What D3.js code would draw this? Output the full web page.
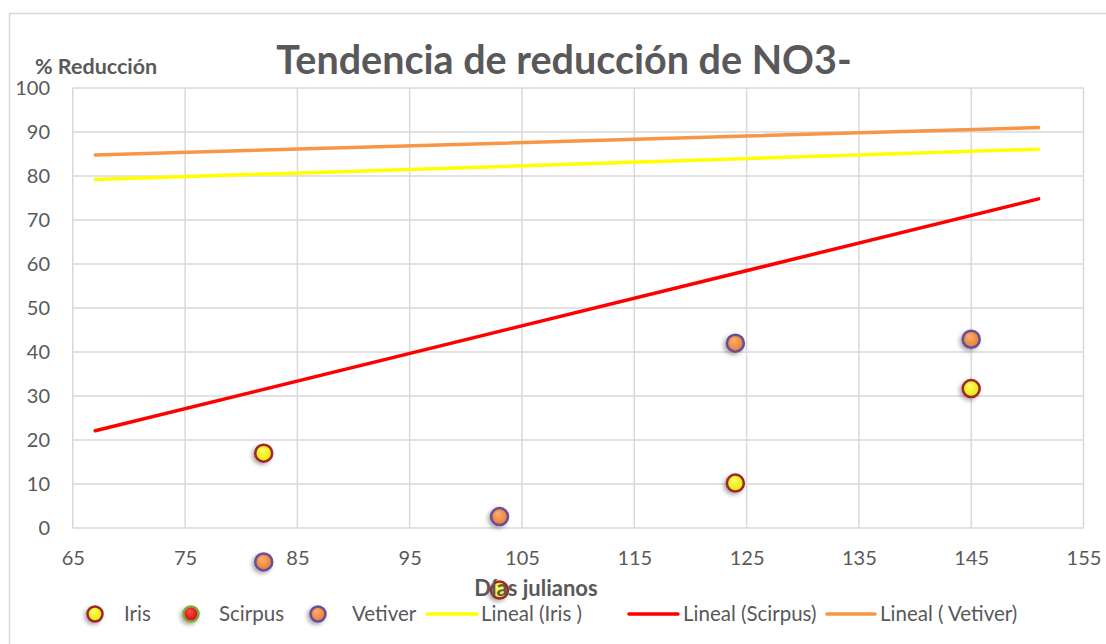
<!DOCTYPE html>
<html>
<head>
<meta charset="utf-8">
<script src="https://cdn.jsdelivr.net/npm/d3@7"></script>
<style>
body { margin: 0; background: #fff; }
svg { display: block; font-family: Lato, "Open Sans", sans-serif; }
</style>
</head>
<body>
<div id="chart"></div>
<script>
// data
var dias = [82, 103, 124, 145];
var iris = [17, -14.1, 10.2, 31.7];
var scirpus = [];            // no Scirpus point visible in the picture
var vetiver = [-7.7, 2.6, 42, 42.9];

// trend lines (start / end of each line)
var trendX = [67, 151];
var trendIris = [79.2, 86.1];
var trendScirpus = [22.1, 74.8];
var trendVetiver = [84.8, 91];

var xTicks = [65, 75, 85, 95, 105, 115, 125, 135, 145, 155];
var yTicks = [0, 10, 20, 30, 40, 50, 60, 70, 80, 90, 100];

var W = 1106, H = 644;
var grey = "#595959", gridC = "#d9d9d9";

var svg = d3.select("#chart").append("svg")
	.attr("width", W)
	.attr("height", H);

var defs = svg.append("defs");

function grad(id, inner, outer){
	var g = defs.append("radialGradient")
		.attr("id", id)
		.attr("cx", "50%").attr("cy", "50%").attr("r", "55%")
		.attr("fx", "38%").attr("fy", "30%");
	g.append("stop").attr("offset", "0%").attr("stop-color", inner);
	g.append("stop").attr("offset", "100%").attr("stop-color", outer);
}
grad("gIris", "#ffff66", "#e6e600");
grad("gScirpus", "#ff5050", "#d00000");
grad("gVetiver", "#ffb070", "#e07b2e");

var f = defs.append("filter").attr("id", "shadow")
	.attr("x", "-60%").attr("y", "-60%").attr("width", "220%").attr("height", "220%");
f.append("feDropShadow")
	.attr("dx", -2).attr("dy", 2).attr("stdDeviation", 2)
	.attr("flood-color", "#000").attr("flood-opacity", 0.35);

// chart frame
svg.append("rect")
	.attr("x", 9.5).attr("y", 13.5)
	.attr("width", 1110).attr("height", 700)
	.attr("fill", "none")
	.attr("stroke", gridC)
	.attr("stroke-width", 1.5);

var x = d3.scaleLinear().domain([65, 155]).range([72.8, 1083.5]);
var y = d3.scaleLinear().domain([0, 100]).range([528, 88]);

// grid
svg.append("g").selectAll("line").data(xTicks).enter().append("line")
	.attr("x1", function(d){ return x(d); })
	.attr("x2", function(d){ return x(d); })
	.attr("y1", y(0)).attr("y2", y(100))
	.attr("stroke", gridC).attr("stroke-width", 1.5);
svg.append("g").selectAll("line").data(yTicks).enter().append("line")
	.attr("x1", x(65)).attr("x2", x(155))
	.attr("y1", function(d){ return y(d); })
	.attr("y2", function(d){ return y(d); })
	.attr("stroke", gridC).attr("stroke-width", 1.5);

// axes labels via d3 axes, lines hidden
svg.append("g")
	.attr("transform", "translate(0," + 541 + ")")
	.call(d3.axisBottom(x).tickValues(xTicks).tickSize(0).tickPadding(10));
svg.append("g")
	.attr("transform", "translate(" + 62 + ",0)")
	.call(d3.axisLeft(y).tickValues(yTicks).tickSize(0).tickPadding(12));
svg.selectAll(".domain").remove();
svg.selectAll(".tick text")
	.attr("fill", grey)
	.style("font-size", "20px")
	.style("font-family", "Lato, sans-serif");

// trend lines
var trends = [
	{v: trendIris, c: "#ffff00"},
	{v: trendScirpus, c: "#ff0000"},
	{v: trendVetiver, c: "#f79646"}
];
trends.forEach(function(t){
	svg.append("line")
		.attr("x1", x(trendX[0])).attr("y1", y(t.v[0]))
		.attr("x2", x(trendX[1])).attr("y2", y(t.v[1]))
		.attr("stroke", t.c).attr("stroke-width", 3.5)
		.attr("stroke-linecap", "round");
});

// points
var series = [
	{name: "Iris", v: iris, fill: "url(#gIris)", stroke: "#a0262a"},
	{name: "Scirpus", v: scirpus, fill: "url(#gScirpus)", stroke: "#7ea83a"},
	{name: "Vetiver", v: vetiver, fill: "url(#gVetiver)", stroke: "#6a4c9c"}
];
series.forEach(function(s){
	svg.append("g").selectAll("circle").data(s.v).enter().append("circle")
		.attr("cx", function(d, i){ return x(dias[i]); })
		.attr("cy", function(d){ return y(d); })
		.attr("r", 8.5)
		.attr("fill", s.fill)
		.attr("stroke", s.stroke)
		.attr("stroke-width", 2.5)
		.attr("filter", "url(#shadow)");
});

// titles
svg.append("text")
	.attr("x", 564).attr("y", 74)
	.attr("text-anchor", "middle")
	.attr("fill", grey)
	.style("font-size", "39.5px").style("font-weight", "bold")
	.text("Tendencia de reducción de NO3-");

svg.append("text")
	.attr("x", 35).attr("y", 74)
	.attr("fill", grey)
	.style("font-size", "21.5px").style("font-weight", "bold")
	.text("% Reducción");

svg.append("text")
	.attr("x", 536).attr("y", 596)
	.attr("text-anchor", "middle")
	.attr("fill", grey)
	.style("font-size", "22px").style("font-weight", "bold")
	.text("Días julianos");

// legend
var leg = svg.append("g");
var legMarks = [
	{x: 95, fill: "url(#gIris)", stroke: "#a0262a", label: "Iris", tx: 124},
	{x: 191, fill: "url(#gScirpus)", stroke: "#7ea83a", label: "Scirpus", tx: 219},
	{x: 318, fill: "url(#gVetiver)", stroke: "#6a4c9c", label: "Vetiver", tx: 352}
];
legMarks.forEach(function(m){
	leg.append("circle")
		.attr("cx", m.x).attr("cy", 614).attr("r", 7.5)
		.attr("fill", m.fill).attr("stroke", m.stroke).attr("stroke-width", 2.5)
		.attr("filter", "url(#shadow)");
	leg.append("text")
		.attr("x", m.tx).attr("y", 621)
		.attr("fill", grey).style("font-size", "20.5px")
		.text(m.label);
});
var legLines = [
	{x1: 427, x2: 477, c: "#ffff00", label: "Lineal (Iris )", tx: 481},
	{x1: 629, x2: 678, c: "#ff0000", label: "Lineal (Scirpus)", tx: 683},
	{x1: 827, x2: 875, c: "#f79646", label: "Lineal ( Vetiver)", tx: 880}
];
legLines.forEach(function(l){
	leg.append("line")
		.attr("x1", l.x1).attr("x2", l.x2)
		.attr("y1", 614).attr("y2", 614)
		.attr("stroke", l.c).attr("stroke-width", 3.5)
		.attr("stroke-linecap", "round");
	leg.append("text")
		.attr("x", l.tx).attr("y", 621)
		.attr("fill", grey).style("font-size", "20.5px")
		.text(l.label);
});
</script>
</body>
</html>
